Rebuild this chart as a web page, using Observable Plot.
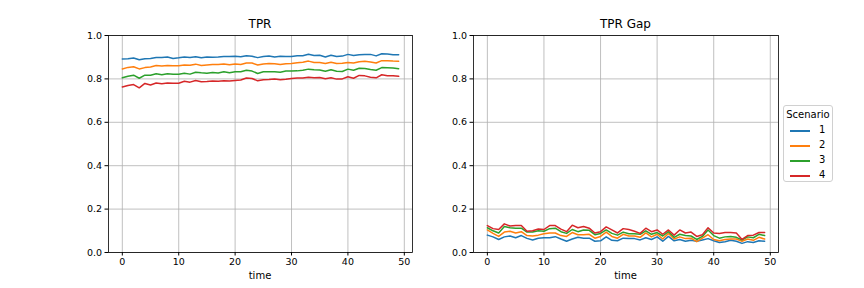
<!DOCTYPE html>
<html>
<head>
<meta charset="utf-8">
<script src="https://cdn.jsdelivr.net/npm/d3@7"></script>
<script src="https://cdn.jsdelivr.net/npm/@observablehq/plot@0.6"></script>
<style>
  html, body { margin: 0; padding: 0; background: #fff; }
  #fig { position: relative; width: 864px; height: 288px; font-family: "DejaVu Sans", sans-serif; color: #000; }
  .panel { position: absolute; top: 0; }
  .title { position: absolute; font-size: 12px; text-align: center; }
  .xlabel { position: absolute; font-size: 10px; text-align: center; }
  #legend { position: absolute; left: 783px; top: 105px; width: 50px; height: 77px; box-sizing: border-box;
            border: 1px solid #d0d0d0; border-radius: 3px; background: #fff; font-size: 10px; }
  #legend .lt { position: absolute; top: 3px; left: 0; width: 100%; text-align: center; }
  #legend .row { position: absolute; left: 6px; height: 12px; width: 40px; }
  #legend .sw { position: absolute; left: 0; top: 5px; width: 20px; height: 2px; }
  #legend .lab { position: absolute; left: 29px; top: -1px; }
</style>
</head>
<body>
<div id="fig"></div>
<script>
const time = d3.range(50);
const scenarios = ["1", "2", "3", "4"];
const colors = ["#1f77b4", "#ff7f0e", "#2ca02c", "#d62728"];
const yTicks = [0, 0.2, 0.4, 0.6, 0.8, 1.0];
const xTicks = [0, 10, 20, 30, 40, 50];

const tpr1 = [.892,.893,.896,.888,.893,.894,.899,.899,.901,.894,.897,.901,.899,.902,.897,.901,.900,.901,.903,.903,.904,.902,.907,.904,.898,.903,.906,.901,.904,.903,.903,.907,.907,.914,.908,.909,.901,.909,.903,.905,.913,.908,.911,.913,.913,.906,.916,.915,.911,.911];
const tpr2 = [.846,.853,.856,.846,.852,.855,.862,.860,.862,.861,.861,.864,.863,.868,.862,.864,.866,.866,.869,.865,.869,.866,.873,.873,.864,.869,.871,.870,.866,.870,.871,.874,.877,.882,.876,.876,.871,.877,.871,.872,.876,.873,.879,.881,.878,.873,.884,.884,.882,.881];
const tpr3 = [.805,.812,.817,.803,.817,.817,.824,.819,.824,.821,.821,.826,.822,.831,.828,.826,.830,.827,.833,.828,.833,.833,.840,.836,.825,.833,.833,.833,.831,.836,.836,.837,.840,.845,.842,.841,.835,.842,.835,.834,.845,.840,.849,.848,.843,.840,.852,.851,.850,.847];
const tpr4 = [.763,.770,.774,.759,.779,.772,.781,.778,.781,.780,.780,.789,.785,.793,.787,.788,.790,.789,.791,.790,.793,.795,.804,.802,.791,.796,.797,.799,.796,.798,.802,.804,.804,.808,.805,.806,.801,.805,.799,.800,.810,.803,.816,.814,.808,.805,.819,.815,.815,.812];

const gap1 = [.080,.072,.060,.072,.076,.068,.078,.065,.058,.066,.068,.068,.073,.062,.052,.062,.070,.066,.066,.052,.054,.072,.056,.054,.066,.064,.064,.058,.068,.060,.072,.052,.074,.054,.060,.052,.056,.052,.058,.064,.054,.046,.050,.056,.052,.042,.050,.046,.054,.052];
const gap2 = [.104,.088,.074,.094,.098,.090,.096,.078,.076,.080,.086,.090,.090,.078,.074,.092,.082,.082,.084,.066,.074,.094,.074,.066,.084,.076,.076,.070,.090,.072,.084,.062,.088,.062,.072,.064,.066,.050,.066,.082,.060,.054,.060,.062,.062,.052,.062,.056,.070,.062];
const gap3 = [.114,.100,.090,.120,.114,.112,.112,.094,.094,.100,.098,.110,.112,.096,.088,.106,.096,.104,.102,.082,.088,.104,.088,.080,.094,.086,.086,.084,.100,.084,.092,.076,.096,.070,.084,.078,.076,.060,.074,.104,.078,.066,.072,.074,.070,.058,.072,.068,.084,.078];
const gap4 = [.124,.110,.106,.132,.122,.124,.124,.098,.100,.108,.106,.124,.124,.108,.096,.126,.114,.120,.112,.090,.096,.118,.104,.090,.110,.106,.098,.088,.112,.096,.104,.084,.104,.080,.104,.090,.094,.074,.082,.114,.090,.088,.092,.092,.090,.060,.078,.080,.092,.092];

function longTable(series) {
  const rows = [];
  series.forEach((vals, i) => vals.forEach((v, j) => rows.push({time: time[j], value: v, scenario: scenarios[i]})));
  return rows;
}

function panel(data, marginLeft, marginRight) {
  return Plot.plot({
    width: 432, height: 288,
    marginLeft, marginRight, marginTop: 35, marginBottom: 36,
    style: {fontFamily: "DejaVu Sans, sans-serif", fontSize: "9.5px", color: "#000", background: "transparent"},
    x: {domain: [-2.45, 51.45]},
    y: {domain: [0, 1]},
    color: {domain: scenarios, range: colors},
    marks: [
      Plot.gridX(xTicks, {stroke: "#b0b0b0", strokeOpacity: 1, strokeWidth: 0.8}),
      Plot.gridY(yTicks, {stroke: "#b0b0b0", strokeOpacity: 1, strokeWidth: 0.8}),
      Plot.line(data, {x: "time", y: "value", z: "scenario", stroke: "scenario", strokeWidth: 1.5}),
      Plot.frame({stroke: "#000", strokeWidth: 0.8}),
      Plot.axisX(xTicks, {tickSize: 3.5, tickPadding: 2.5, label: null, tickFormat: d => String(d), fontSize: 9.5}),
      Plot.axisY(yTicks, {tickSize: 3.5, tickPadding: 3, label: null, tickFormat: d3.format(".1f"), fontSize: 9.5})
    ]
  });
}

const fig = document.getElementById("fig");

function addPanel(left, data, mL, mR, title) {
  const wrap = document.createElement("div");
  wrap.className = "panel";
  wrap.style.left = left + "px";
  wrap.appendChild(panel(data, mL, mR));
  fig.appendChild(wrap);
  const x0 = left + mL, x1 = left + 432 - mR;
  const t = document.createElement("div");
  t.className = "title";
  t.textContent = title;
  t.style.left = x0 + "px"; t.style.width = (x1 - x0) + "px"; t.style.top = "17px";
  fig.appendChild(t);
  const xl = document.createElement("div");
  xl.className = "xlabel";
  xl.textContent = "time";
  xl.style.left = x0 + "px"; xl.style.width = (x1 - x0) + "px"; xl.style.top = "270px";
  fig.appendChild(xl);
}

addPanel(0, longTable([tpr1, tpr2, tpr3, tpr4]), 108, 20, "TPR");
addPanel(432, longTable([gap1, gap2, gap3, gap4]), 41, 86, "TPR Gap");

const leg = document.createElement("div");
leg.id = "legend";
leg.innerHTML = '<div class="lt">Scenario</div>' + scenarios.map((s, i) =>
  `<div class="row" style="top:${19 + i * 15}px"><div class="sw" style="background:${colors[i]}"></div><div class="lab">${s}</div></div>`).join("");
fig.appendChild(leg);
</script>
</body>
</html>
